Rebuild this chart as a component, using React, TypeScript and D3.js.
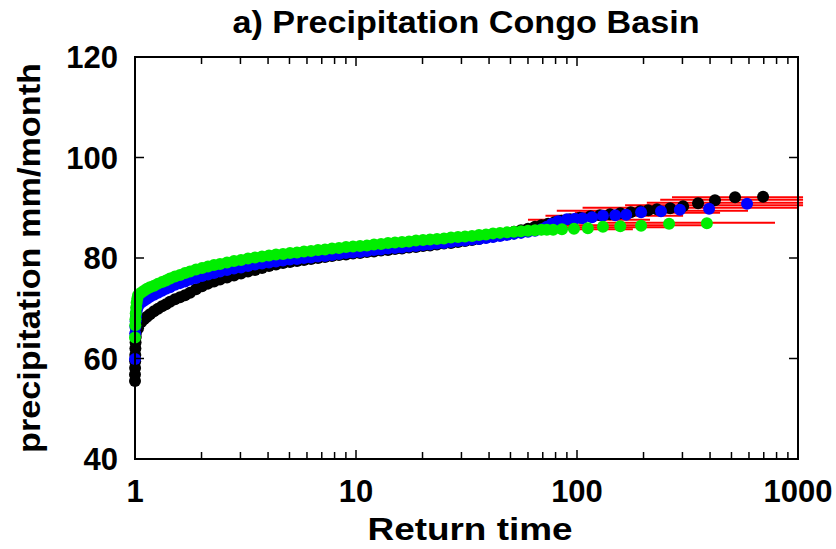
import React from "react";
import * as d3 from "d3";

const title = "a) Precipitation Congo Basin";
const xLabel = "Return time";
const yLabel = "precipitation mm/month";
const xTickValues = [1, 10, 100, 1000];
const xTickLabels = ["1", "10", "100", "1000"];
const yTickValues = [40, 60, 80, 100, 120];
const yTickLabels = ["40", "60", "80", "100", "120"];

// return times of the densely packed part of the curves (shared by the three series)
const denseReturnTimes = [
  1.032, 1.065, 1.098, 1.133, 1.169, 1.219, 1.271, 1.325, 1.381, 1.44,
  1.517, 1.598, 1.684, 1.774, 1.888, 2.01, 2.14, 2.278, 2.425, 2.608,
  2.805, 3.018, 3.246, 3.492, 3.756, 4.04, 4.345, 4.674, 5.028, 5.408,
  5.818, 6.257, 6.73, 7.24, 7.787, 8.377, 9.01, 9.692, 10.43, 11.21,
  12.06, 12.98, 13.96, 15.01, 16.15, 17.37, 18.68, 20.1, 21.62, 23.25,
  25.01, 26.9, 28.94, 31.13, 33.49, 36.02, 38.75, 41.68, 44.83, 48.22,
  51.86, 55.79, 60.01, 64.55,
];

const blackDense = [
  66.0, 67.2, 67.8, 68.3, 68.8, 69.4, 69.9, 70.4, 70.8, 71.3,
  71.8, 72.2, 72.6, 73.1, 73.8, 74.4, 74.9, 75.3, 75.7, 76.1,
  76.5, 76.9, 77.3, 77.6, 78.0, 78.4, 78.7, 79.0, 79.2, 79.4,
  79.6, 79.8, 80.0, 80.2, 80.4, 80.6, 80.7, 80.9, 81.0, 81.2,
  81.3, 81.5, 81.6, 81.8, 81.9, 82.1, 82.2, 82.4, 82.5, 82.7,
  82.9, 83.0, 83.2, 83.4, 83.6, 83.8, 84.1, 84.3, 84.6, 84.9,
  85.2, 85.5, 85.8, 86.2,
];
const blueDense = [
  70.4, 71.1, 71.5, 71.9, 72.3, 72.7, 73.1, 73.5, 73.9, 74.2,
  74.7, 75.0, 75.3, 75.7, 76.0, 76.4, 76.7, 77.0, 77.3, 77.6,
  77.9, 78.1, 78.4, 78.7, 78.9, 79.1, 79.3, 79.5, 79.7, 79.8,
  80.0, 80.1, 80.3, 80.4, 80.6, 80.8, 81.0, 81.1, 81.2, 81.4,
  81.6, 81.7, 81.9, 82.0, 82.1, 82.3, 82.4, 82.6, 82.7, 82.9,
  83.0, 83.2, 83.4, 83.5, 83.7, 83.8, 84.0, 84.2, 84.4, 84.6,
  84.8, 85.0, 85.2, 85.4,
];
const greenDense = [
  72.6, 73.1, 73.5, 73.9, 74.2, 74.5, 74.9, 75.2, 75.5, 75.9,
  76.3, 76.6, 77.0, 77.3, 77.7, 78.0, 78.3, 78.6, 78.8, 79.1,
  79.4, 79.6, 79.9, 80.1, 80.3, 80.5, 80.7, 80.8, 81.0, 81.1,
  81.3, 81.4, 81.6, 81.7, 81.9, 82.0, 82.2, 82.3, 82.4, 82.5,
  82.7, 82.8, 83.0, 83.1, 83.2, 83.3, 83.5, 83.6, 83.7, 83.8,
  83.9, 84.1, 84.2, 84.3, 84.4, 84.6, 84.7, 84.9, 85.0, 85.1,
  85.2, 85.3, 85.4, 85.5,
];

// lowest values, all at return time ~1: [return time, precipitation]
const blackLow: [number, number][] = [
  [1.0, 55.5], [1.0, 56.8], [1.001, 58.1], [1.002, 59.4], [1.003, 60.7], [1.004, 62.0],
  [1.006, 63.2], [1.008, 64.3], [1.011, 65.2], [1.015, 66.0], [1.02, 66.7], [1.026, 67.3],
];
const blueLow: [number, number][] = [
  [1.0, 59.9], [1.002, 65.0], [1.004, 66.3], [1.007, 67.4], [1.011, 68.4], [1.016, 69.3],
  [1.022, 70.0],
];
const greenLow: [number, number][] = [
  [1.0, 64.2], [1.003, 66.6], [1.005, 67.8], [1.008, 69.0], [1.012, 70.1], [1.017, 71.1],
  [1.024, 71.9],
];

// largest values: [return time, precipitation]
const blackHigh: [number, number][] = [
  [69, 86.5], [74, 86.8], [79, 87.1], [85, 87.4], [93, 87.7], [103, 88.0], [115, 88.3],
  [127, 88.5], [141, 88.7], [157, 88.9], [175, 89.1], [193, 89.3], [210, 89.5], [230, 89.7],
  [264, 89.9], [302, 90.3], [353, 90.9], [421, 91.5], [519, 92.1], [695, 92.2],
];
const blueHigh: [number, number][] = [
  [69, 85.7], [73, 86.2], [77, 86.8], [82, 87.3], [90, 87.7], [97.9, 87.8], [106, 87.9],
  [117, 88.1], [131, 88.4], [149, 88.5], [167, 88.6], [195, 89.1], [240, 89.3], [292, 89.6],
  [396, 89.8], [588, 90.8],
];
const greenHigh: [number, number][] = [
  [69, 85.6], [73, 85.6], [78, 85.6], [85.5, 85.7], [96.9, 85.8], [112, 85.9],
  [131, 86.2], [157, 86.3], [195, 86.4], [261, 86.8], [387, 86.9],
];

// [precipitation, lower return time, upper return time]
const errorBars: [number, number, number][] = [
  [92.1, 269, 1054], [91.6, 238, 1054], [91.0, 207, 1054], [90.5, 165, 1054],
  [90.0, 106, 990], [89.4, 81, 594], [89.0, 98, 444], [88.4, 72, 302],
  [87.6, 60, 214], [87.0, 127, 787], [86.5, 60, 400], [86.1, 75, 272], [85.7, 68, 179],
];

const series = [
  { name: "black", color: "#000000", low: blackLow, dense: blackDense, high: blackHigh },
  { name: "blue", color: "#0000ff", low: blueLow, dense: blueDense, high: blueHigh },
  { name: "green", color: "#00ee00", low: greenLow, dense: greenDense, high: greenHigh },
];

export default function App() {
  const W = 836;
  const H = 549;
  const left = 135, right = 798, top = 57, bottom = 459;
  const x = d3.scaleLog().domain([1, 1000]).range([left, right]);
  const y = d3.scaleLinear().domain([40, 120]).range([bottom, top]);
  const minor: number[] = [];
  for (let k = 0; k < 3; k++) for (let d = 2; d <= 9; d++) minor.push(d * Math.pow(10, k));
  const font = "'Liberation Sans', Arial, Helvetica, sans-serif";
  const majorLen = 9;
  const minorLen = 7;
  return (
    <svg width={W} height={H} style={{ position: "absolute", left: 0, top: 0, background: "#fff" }}
      fontFamily={font} fontWeight="bold">
      <rect x={0} y={0} width={W} height={H} fill="#fff" />
      <text x={466} y={33} fontSize={32} textAnchor="middle" textLength={467} lengthAdjust="spacingAndGlyphs">{title}</text>
      {errorBars.map(([v, lo, hi], i) => (
        <line key={"e" + i} x1={x(lo)} x2={x(hi)} y1={y(v)} y2={y(v)} stroke="#ff0000" strokeWidth={2} />
      ))}
      {series.map((s) => {
        const pts: [number, number][] = [
          ...s.low,
          ...denseReturnTimes.map((t, i) => [t, s.dense[i]] as [number, number]),
          ...s.high,
        ];
        return (
          <g key={s.name} fill={s.color}>
            {pts.map(([t, v], i) => (
              <circle key={i} cx={x(t)} cy={y(v)} r={6} />
            ))}
          </g>
        );
      })}
      <rect x={left} y={top} width={right - left} height={bottom - top} fill="none" stroke="#000" strokeWidth={2} />
      {yTickValues.map((v, i) => (
        <g key={"y" + i}>
          <line x1={left} x2={left + majorLen} y1={y(v)} y2={y(v)} stroke="#000" strokeWidth={1.5} />
          <line x1={right} x2={right - majorLen} y1={y(v)} y2={y(v)} stroke="#000" strokeWidth={1.5} />
          <text x={118} y={y(v) + 11} fontSize={31} textAnchor="end">{yTickLabels[i]}</text>
        </g>
      ))}
      {xTickValues.map((v, i) => (
        <g key={"x" + i}>
          <line x1={x(v)} x2={x(v)} y1={bottom} y2={bottom - majorLen} stroke="#000" strokeWidth={1.5} />
          <line x1={x(v)} x2={x(v)} y1={top} y2={top + majorLen} stroke="#000" strokeWidth={1.5} />
          <text x={x(v)} y={502} fontSize={31} textAnchor="middle">{xTickLabels[i]}</text>
        </g>
      ))}
      {minor.map((v, i) => (
        <g key={"m" + i}>
          <line x1={x(v)} x2={x(v)} y1={bottom} y2={bottom - minorLen} stroke="#000" strokeWidth={1.5} />
          <line x1={x(v)} x2={x(v)} y1={top} y2={top + minorLen} stroke="#000" strokeWidth={1.5} />
        </g>
      ))}
      <text x={470} y={540} fontSize={32} textAnchor="middle" textLength={205} lengthAdjust="spacingAndGlyphs">{xLabel}</text>
      <text transform="translate(40,258) rotate(-90)" fontSize={32} textAnchor="middle" textLength={390} lengthAdjust="spacingAndGlyphs">{yLabel}</text>
    </svg>
  );
}
